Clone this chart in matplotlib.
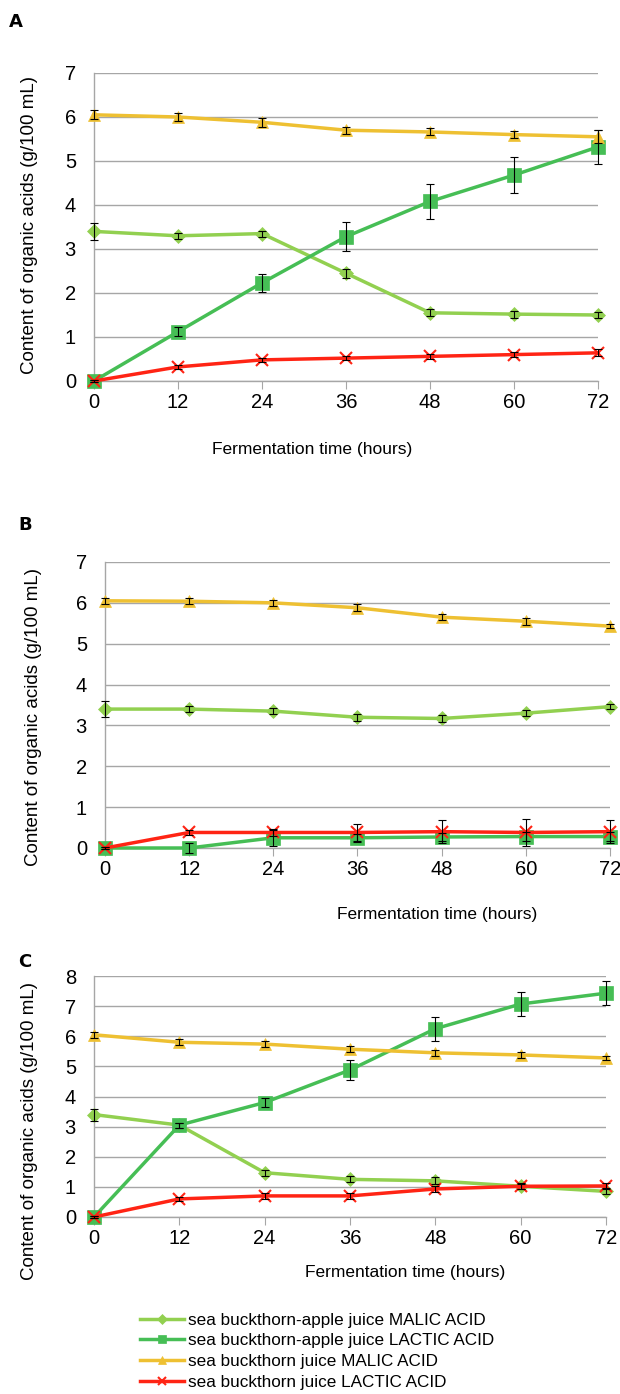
import matplotlib.pyplot as plt
from matplotlib.lines import Line2D

plt.rcParams["font.family"] = ["Liberation Sans", "DejaVu Sans"]

hours = [0, 12, 24, 36, 48, 60, 72]

# panel A
a_sba_malic = [3.40, 3.30, 3.35, 2.45, 1.55, 1.52, 1.50]
a_sba_malic_err = [0.20, 0.07, 0.07, 0.10, 0.08, 0.08, 0.07]
a_sba_lactic = [0.00, 1.12, 2.23, 3.28, 4.08, 4.68, 5.32]
a_sba_lactic_err = [0.02, 0.10, 0.21, 0.33, 0.40, 0.40, 0.38]
a_sb_malic = [6.05, 6.00, 5.88, 5.70, 5.66, 5.60, 5.55]
a_sb_malic_err = [0.10, 0.08, 0.10, 0.08, 0.08, 0.08, 0.15]
a_sb_lactic = [0.00, 0.32, 0.48, 0.52, 0.56, 0.60, 0.64]
a_sb_lactic_err = [0.02, 0.05, 0.05, 0.05, 0.05, 0.05, 0.08]

# panel B
b_sba_malic = [3.40, 3.40, 3.35, 3.20, 3.17, 3.30, 3.46]
b_sba_malic_err = [0.20, 0.07, 0.08, 0.08, 0.08, 0.08, 0.07]
b_sba_lactic = [0.00, 0.00, 0.25, 0.25, 0.27, 0.28, 0.28]
b_sba_lactic_err = [0.02, 0.12, 0.20, 0.10, 0.10, 0.10, 0.10]
b_sb_malic = [6.05, 6.04, 6.00, 5.88, 5.65, 5.55, 5.43]
b_sb_malic_err = [0.08, 0.08, 0.08, 0.08, 0.08, 0.08, 0.05]
b_sb_lactic = [0.00, 0.38, 0.38, 0.38, 0.40, 0.38, 0.40]
b_sb_lactic_err = [0.02, 0.05, 0.08, 0.20, 0.28, 0.32, 0.28]

# panel C
c_sba_malic = [3.40, 3.05, 1.47, 1.25, 1.20, 1.02, 0.85]
c_sba_malic_err = [0.20, 0.08, 0.10, 0.10, 0.12, 0.10, 0.10]
c_sba_lactic = [0.00, 3.05, 3.80, 4.88, 6.25, 7.07, 7.43]
c_sba_lactic_err = [0.02, 0.08, 0.15, 0.33, 0.40, 0.40, 0.40]
c_sb_malic = [6.05, 5.80, 5.74, 5.57, 5.45, 5.38, 5.28]
c_sb_malic_err = [0.10, 0.10, 0.10, 0.10, 0.10, 0.10, 0.08]
c_sb_lactic = [0.00, 0.60, 0.70, 0.70, 0.93, 1.02, 1.03]
c_sb_lactic_err = [0.02, 0.08, 0.10, 0.10, 0.10, 0.08, 0.10]

labels = [
    "sea buckthorn-apple juice MALIC ACID",
    "sea buckthorn-apple juice LACTIC ACID",
    "sea buckthorn juice MALIC ACID",
    "sea buckthorn juice LACTIC ACID",
]
colors = ["#92D050", "#46BE55", "#EEC032", "#FF2414"]
markers = ["D", "s", "^", "x"]
msizes = [7.5, 9.5, 9, 9]

W, H = 620, 1394
fig = plt.figure(figsize=(W / 100, H / 100), dpi=100)


def px_axes(left, right, top, bottom):
    return fig.add_axes([left / W, 1 - bottom / H, (right - left) / W, (bottom - top) / H])


def draw_panel(ax, series, errs, ymax):
    for i, (vals, err) in enumerate(zip(series, errs)):
        ax.errorbar(hours, vals, yerr=err, fmt="none", ecolor="black",
                    elinewidth=0.8, capsize=3, capthick=0.8, zorder=4, clip_on=False)
        ax.plot(hours, vals, color=colors[i], lw=2.5, marker=markers[i],
                ms=msizes[i], mew=1.5 if markers[i] == "x" else 0.5,
                mec=colors[i], zorder=3, clip_on=False)
    ax.set_xlim(0, 72)
    ax.set_ylim(0, ymax)
    ax.set_xticks(hours)
    ax.set_yticks(range(ymax + 1))
    ax.grid(axis="y", color="#A6A6A6", lw=1)
    ax.set_axisbelow(True)
    for s in ["top", "right"]:
        ax.spines[s].set_visible(False)
    for s in ["left", "bottom"]:
        ax.spines[s].set_color("#A6A6A6")
        ax.spines[s].set_linewidth(1)
    ax.tick_params(axis="y", length=0, labelsize=14.5, pad=13)
    ax.tick_params(axis="x", length=6, color="#A6A6A6", labelsize=14.5, pad=3)


ylab = "Content of organic acids (g/100 mL)"

axA = px_axes(94, 598, 73, 381)
draw_panel(axA, [a_sba_malic, a_sba_lactic, a_sb_malic, a_sb_lactic],
           [a_sba_malic_err, a_sba_lactic_err, a_sb_malic_err, a_sb_lactic_err], 7)
axB = px_axes(105, 610, 562, 848)
draw_panel(axB, [b_sba_malic, b_sba_lactic, b_sb_malic, b_sb_lactic],
           [b_sba_malic_err, b_sba_lactic_err, b_sb_malic_err, b_sb_lactic_err], 7)
axC = px_axes(94, 606, 976, 1217)
draw_panel(axC, [c_sba_malic, c_sba_lactic, c_sb_malic, c_sb_lactic],
           [c_sba_malic_err, c_sba_lactic_err, c_sb_malic_err, c_sb_lactic_err], 8)

for x, y in [(30, 225), (34, 717), (30, 1131)]:
    fig.text(x / W, 1 - y / H, ylab, rotation=90, ha="center", va="center", fontsize=13.5)
for x, y in [(312, 450), (437, 914), (405, 1272)]:
    fig.text(x / W, 1 - y / H, "Fermentation time (hours)", ha="center", va="center", fontsize=12.5)
for x, y, t in [(9, 22, "A"), (18, 525, "B"), (18, 962, "C")]:
    fig.text(x / W, 1 - y / H, t, ha="left", va="center", fontsize=13, fontweight="bold",
             family=["DejaVu Sans"])

handles = [Line2D([], [], color=colors[i], lw=2.5, marker=markers[i],
                  ms=msizes[i] * 0.65, mew=1.5 if markers[i] == "x" else 0.5)
           for i in range(4)]
fig.legend(handles, labels, loc="upper left", bbox_to_anchor=(133 / W, 1 - 1306 / H),
           frameon=False, fontsize=12.3, handlelength=2.6, handletextpad=0.2,
           labelspacing=0.33, borderaxespad=0)

fig.savefig("out.png", dpi=100)
